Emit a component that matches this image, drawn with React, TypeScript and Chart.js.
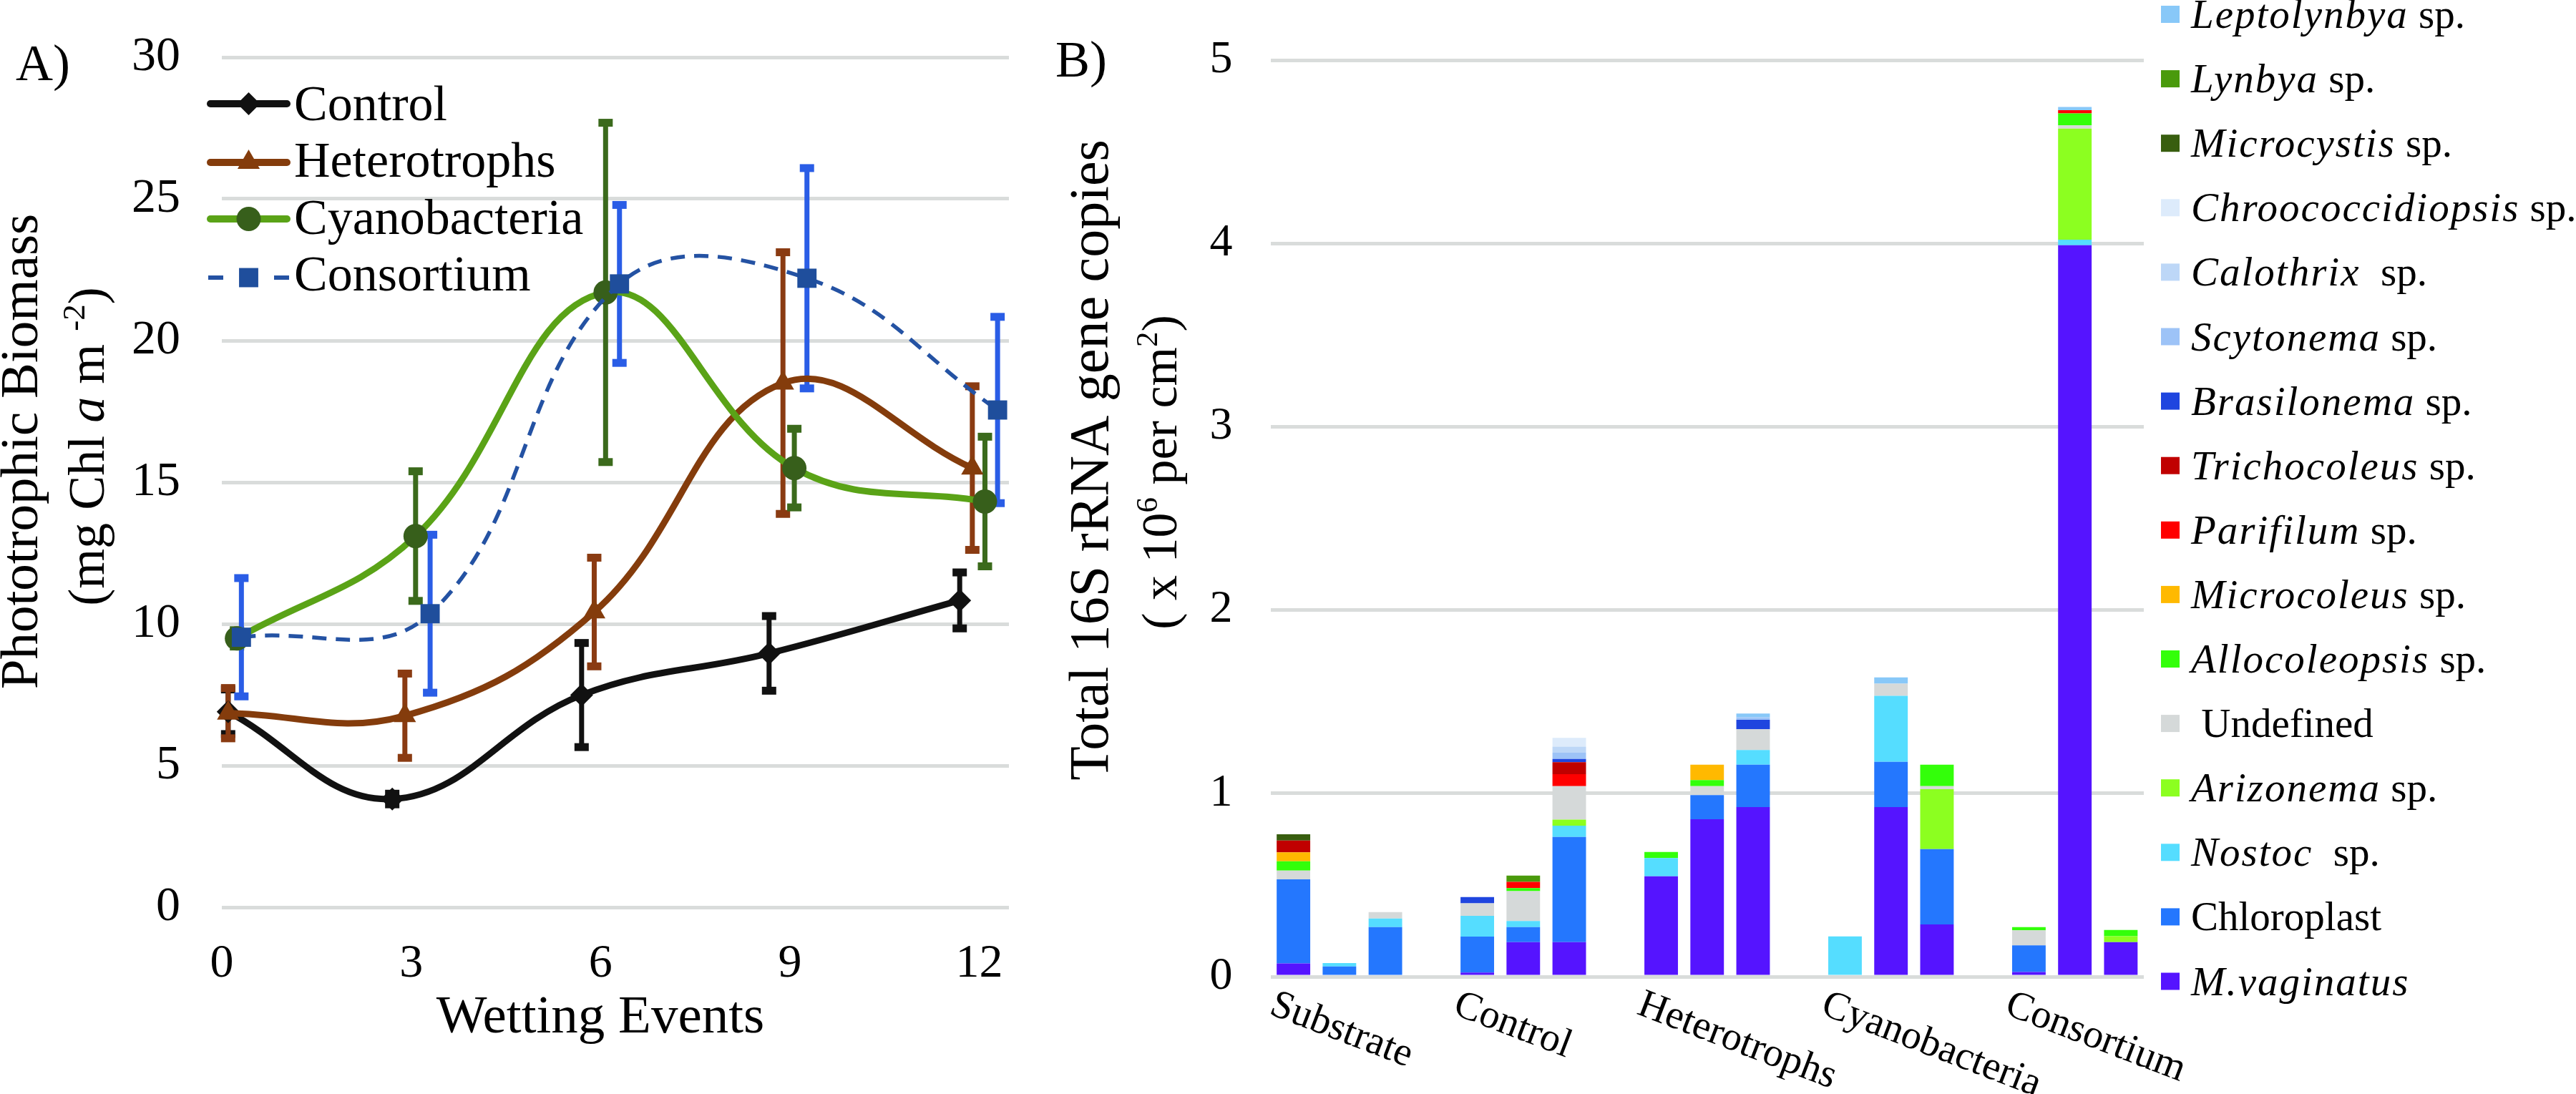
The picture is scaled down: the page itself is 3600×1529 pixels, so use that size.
import React, { useEffect, useRef } from 'react';
import { Chart, registerables } from 'chart.js';

Chart.register(...registerables);

const FONT = "'Liberation Serif', 'Times New Roman', Times, serif";

// ---------------- Panel A data ----------------
const wettingTicks = [0, 3, 6, 9, 12];
const biomassTicks = [0, 5, 10, 15, 20, 25, 30];
const seriesNamesA = ['Control', 'Heterotrophs', 'Cyanobacteria', 'Consortium'];

const wettingControl = [0.1, 2.7, 5.7, 8.67, 11.69];
const biomassControl = [6.9, 3.82, 7.49, 8.96, 10.83];
const errorControl = [0.8, 0.2, 1.85, 1.33, 1.0];

const wettingHetero = [0.1, 2.9, 5.9, 8.89, 11.89];
const biomassHetero = [6.85, 6.76, 10.42, 18.5, 15.5];
const errorHetero = [0.9, 1.5, 1.93, 4.63, 2.9];

const wettingCyano = [0.24, 3.07, 6.08, 9.07, 12.09];
const biomassCyano = [9.49, 13.1, 21.7, 15.5, 14.32];
const errorCyano = [0.3, 2.3, 6.0, 1.4, 2.3];

const wettingConsortium = [0.31, 3.3, 6.3, 9.27, 12.29];
const biomassConsortium = [9.53, 10.36, 22.0, 22.2, 17.55];
const errorConsortium = [2.1, 2.8, 2.8, 3.9, 3.3];

// ---------------- Panel B data ----------------
const groups = ['Substrate', 'Control', 'Heterotrophs', 'Cyanobacteria', 'Consortium'];
const biomassTicksB = [0, 1, 2, 3, 4, 5];
// stacking order: bottom -> top (legend lists top -> bottom)
const speciesNames = [
  'M.vaginatus', 'Chloroplast', 'Nostoc', 'Arizonema', 'Undefined', 'Allocoleopsis',
  'Microcoleus', 'Parifilum', 'Trichocoleus', 'Brasilonema', 'Scytonema', 'Calothrix',
  'Chroococcidiopsis', 'Microcystis', 'Lynbya', 'Leptolynbya',
];
// 15 bars: 3 replicates per group
const mVaginatus = [0.072, 0, 0, 0.022, 0.188, 0.188, 0.547, 0.859, 0.925, 0, 0.925, 0.285, 0.025, 3.99, 0.188];
const chloroplast = [0.459, 0.056, 0.27, 0.197, 0.082, 0.574, 0, 0.131, 0.231, 0, 0.247, 0.411, 0.146, 0, 0];
const nostoc = [0, 0.018, 0.047, 0.113, 0.033, 0.062, 0.1, 0, 0.08, 0.22, 0.36, 0, 0, 0.03, 0];
const arizonema = [0, 0, 0, 0, 0, 0.033, 0, 0, 0, 0, 0, 0.327, 0, 0.606, 0.033];
const undefinedTaxa = [0.048, 0, 0.035, 0.068, 0.163, 0.182, 0, 0.049, 0.114, 0, 0.066, 0.016, 0.082, 0.018, 0];
const allocoleopsis = [0.05, 0, 0, 0, 0.017, 0, 0.033, 0.033, 0, 0, 0, 0.117, 0.017, 0.065, 0.034];
const microcoleus = [0.049, 0, 0, 0, 0, 0, 0, 0.084, 0, 0, 0, 0, 0, 0, 0];
const parifilum = [0, 0, 0, 0, 0.034, 0.066, 0, 0, 0, 0, 0, 0, 0, 0.018, 0];
const trichocoleus = [0.065, 0, 0, 0, 0, 0.065, 0, 0, 0, 0, 0, 0, 0, 0, 0];
const brasilonema = [0, 0, 0, 0.034, 0, 0.018, 0, 0, 0.051, 0, 0, 0, 0, 0, 0];
const scytonema = [0, 0, 0, 0, 0, 0.034, 0, 0, 0.014, 0, 0, 0, 0, 0, 0];
const calothrix = [0, 0, 0, 0, 0, 0.033, 0, 0, 0, 0, 0, 0, 0, 0, 0];
const chroococcidiopsis = [0, 0, 0, 0, 0, 0.048, 0, 0, 0, 0, 0, 0, 0, 0, 0];
const microcystis = [0.034, 0, 0, 0, 0, 0, 0, 0, 0, 0, 0, 0, 0, 0, 0];
const lynbya = [0, 0, 0, 0, 0.034, 0, 0, 0, 0, 0, 0, 0, 0, 0, 0];
const leptolynbya = [0, 0, 0, 0, 0, 0, 0, 0, 0.02, 0, 0.035, 0, 0, 0.017, 0];

const speciesValues = [
  mVaginatus, chloroplast, nostoc, arizonema, undefinedTaxa, allocoleopsis, microcoleus,
  parifilum, trichocoleus, brasilonema, scytonema, calothrix, chroococcidiopsis,
  microcystis, lynbya, leptolynbya,
];

// ---------------- styles ----------------
const styleA = [
  { line: '#111111', marker: '#111111', err: '#111111', point: 'rectRot', radius: 16, width: 9, dash: [] as number[] },
  { line: '#843C0C', marker: '#843C0C', err: '#8A3B12', point: 'triangle', radius: 18, width: 9, dash: [] as number[] },
  { line: '#5AA317', marker: '#375F1B', err: '#3B6A1C', point: 'circle', radius: 17, width: 9, dash: [] as number[] },
  { line: '#2452A3', marker: '#1F4E9C', err: '#2A5DE6', point: 'rect', radius: 19, width: 5.5, dash: [20, 13] },
];
const speciesColors = [
  '#5514FF', '#2477FE', '#55DDFF', '#8CFF20', '#D5D9D9', '#33FF0A', '#FFB900', '#FF0000',
  '#C00000', '#1F45DF', '#9DC3F7', '#BDD7F7', '#DDEBFB', '#385E0F', '#4A9A0C', '#88C8F8',
];
const speciesItalic = [true, false, true, true, false, true, true, true, true, true, true, true, true, true, true, true];
const speciesSuffix = ['', '', '  sp.', ' sp.', '', ' sp.', ' sp.', ' sp.', ' sp.', ' sp.', ' sp.', '  sp.', ' sp.', ' sp.', ' sp.', ' sp.'];

const GRID = '#D9DCDB';

type Seg = { t: string; italic?: boolean; sup?: boolean };

function drawRich(ctx: any, segs: Seg[], size: number, x: number, y: number, rot: number, align: 'center' | 'left') {
  ctx.save();
  ctx.translate(x, y);
  ctx.rotate(rot);
  const fontFor = (s: Seg) => `${s.italic ? 'italic ' : ''}${s.sup ? Math.round(size * 0.62) : size}px ${FONT}`;
  let total = 0;
  const widths = segs.map((s) => {
    ctx.font = fontFor(s);
    const w = ctx.measureText(s.t).width;
    total += w;
    return w;
  });
  let cx = align === 'center' ? -total / 2 : 0;
  ctx.textBaseline = 'alphabetic';
  ctx.textAlign = 'left';
  ctx.fillStyle = '#000';
  segs.forEach((s, i) => {
    ctx.font = fontFor(s);
    ctx.fillText(s.t, cx, s.sup ? -size * 0.38 : 0);
    cx += widths[i];
  });
  ctx.restore();
}

function drawMarker(ctx: any, style: string, x: number, y: number, r: number, color: string) {
  ctx.save();
  ctx.fillStyle = color;
  ctx.beginPath();
  if (style === 'rectRot') {
    ctx.moveTo(x, y - r);
    ctx.lineTo(x + r, y);
    ctx.lineTo(x, y + r);
    ctx.lineTo(x - r, y);
    ctx.closePath();
  } else if (style === 'triangle') {
    for (let k = 0; k < 3; k++) {
      const a = (k * 2 * Math.PI) / 3;
      const px = x + Math.sin(a) * r;
      const py = y - Math.cos(a) * r;
      if (k === 0) ctx.moveTo(px, py);
      else ctx.lineTo(px, py);
    }
    ctx.closePath();
  } else if (style === 'circle') {
    ctx.arc(x, y, r, 0, Math.PI * 2);
  } else {
    const s = r * Math.SQRT1_2;
    ctx.rect(x - s, y - s, 2 * s, 2 * s);
  }
  ctx.fill();
  ctx.restore();
}

const seriesA = [
  { x: wettingControl, y: biomassControl, e: errorControl },
  { x: wettingHetero, y: biomassHetero, e: errorHetero },
  { x: wettingCyano, y: biomassCyano, e: errorCyano },
  { x: wettingConsortium, y: biomassConsortium, e: errorConsortium },
];

const errorBarPlugin = {
  id: 'errorBarsA',
  beforeDatasetsDraw(chart: any) {
    const { ctx } = chart;
    const xs = chart.scales.x;
    const ys = chart.scales.y;
    seriesA.forEach((s, i) => {
      const st = styleA[i];
      ctx.save();
      ctx.strokeStyle = st.err;
      ctx.fillStyle = st.err;
      ctx.lineWidth = 7;
      s.x.forEach((xv, j) => {
        const px = xs.getPixelForValue(xv);
        const top = ys.getPixelForValue(s.y[j] + s.e[j]);
        const bot = ys.getPixelForValue(s.y[j] - s.e[j]);
        ctx.beginPath();
        ctx.moveTo(px, top);
        ctx.lineTo(px, bot);
        ctx.stroke();
        ctx.fillRect(px - 10, top - 5, 20, 11);
        ctx.fillRect(px - 10, bot - 6, 20, 11);
      });
      ctx.restore();
    });
  },
};

const decorA = {
  id: 'decorA',
  afterDraw(chart: any) {
    const { ctx } = chart;
    drawRich(ctx, [{ t: 'A)' }], 72, 22, 112, 0, 'left');
    drawRich(ctx, [{ t: 'Phototrophic Biomass' }], 75, 52, 631, -Math.PI / 2, 'center');
    drawRich(
      ctx,
      [{ t: '(mg Chl ' }, { t: 'a', italic: true }, { t: ' m ' }, { t: '-2', sup: true }, { t: ')' }],
      72, 145, 624, -Math.PI / 2, 'center'
    );
    drawRich(ctx, [{ t: 'Wetting Events' }], 75, 839, 1443, 0, 'center');
    const rowsY = [145, 227, 306, 388];
    const baseY = [168, 247, 327, 406];
    seriesNamesA.forEach((name, i) => {
      const st = styleA[i];
      ctx.save();
      ctx.strokeStyle = st.line;
      ctx.lineWidth = i === 3 ? 6 : 10;
      ctx.lineCap = i === 3 ? 'butt' : 'round';
      ctx.beginPath();
      if (i === 3) {
        ctx.moveTo(291, rowsY[i]);
        ctx.lineTo(312, rowsY[i]);
        ctx.moveTo(383, rowsY[i]);
        ctx.lineTo(404, rowsY[i]);
      } else {
        ctx.moveTo(294, rowsY[i]);
        ctx.lineTo(401, rowsY[i]);
      }
      ctx.stroke();
      ctx.restore();
      drawMarker(ctx, st.point, 347.5, rowsY[i], st.radius, st.marker);
      drawRich(ctx, [{ t: name }], 70, 411, baseY[i], 0, 'left');
    });
  },
};

const slotsPerGroup = 4;
const nSlots = groups.length * slotsPerGroup - 1;
function toSlots(vals: number[]) {
  const out: (number | null)[] = new Array(nSlots).fill(null);
  vals.forEach((v, k) => {
    const g = Math.floor(k / 3);
    const b = k % 3;
    out[g * slotsPerGroup + b] = v;
  });
  return out;
}
const slotLabels = Array.from({ length: nSlots }, (_, i) =>
  i % slotsPerGroup === 0 ? groups[i / slotsPerGroup] : ''
);
const BAR_PCT = 0.73;

const decorB = {
  id: 'decorB',
  afterDraw(chart: any) {
    const { ctx } = chart;
    drawRich(ctx, [{ t: 'B)' }], 72, 25, 107, 0, 'left');
    drawRich(ctx, [{ t: 'Total 16S rRNA gene copies' }], 78, 98, 643, -Math.PI / 2, 'center');
    drawRich(
      ctx,
      [{ t: '( x 10' }, { t: '6', sup: true }, { t: ' per cm' }, { t: '2', sup: true }, { t: ')' }],
      70, 194, 660, -Math.PI / 2, 'center'
    );
    const xs = chart.scales.x;
    const slotW = xs.width / nSlots;
    const barW = slotW * BAR_PCT;
    const ang = (21 * Math.PI) / 180;
    groups.forEach((g, gi) => {
      const left = xs.getPixelForValue(gi * slotsPerGroup) - barW / 2 + 1;
      ctx.save();
      ctx.translate(left, 1382);
      ctx.rotate(ang);
      ctx.font = `56px ${FONT}`;
      ctx.fillStyle = '#000';
      ctx.textBaseline = 'alphabetic';
      ctx.textAlign = 'left';
      ctx.fillText(g, 0, 37);
      ctx.restore();
    });
    const n = speciesNames.length;
    for (let r = 0; r < n; r++) {
      const k = n - 1 - r;
      const cy = 20 + r * 90.1;
      ctx.fillStyle = speciesColors[k];
      ctx.fillRect(1570, cy - 12, 26, 24);
      ctx.save();
      ctx.fillStyle = '#000';
      ctx.textBaseline = 'alphabetic';
      ctx.textAlign = 'left';
      let x = 1612;
      const by = cy + 19;
      if (speciesItalic[k]) {
        ctx.font = `italic 57px ${FONT}`;
        try { ctx.letterSpacing = '2px'; } catch (e) {}
        ctx.fillText(speciesNames[k], x, by);
        x += ctx.measureText(speciesNames[k]).width;
        try { ctx.letterSpacing = '0px'; } catch (e) {}
        if (speciesSuffix[k]) {
          ctx.font = `57px ${FONT}`;
          ctx.fillText(speciesSuffix[k], x, by);
        }
      } else {
        ctx.font = `57px ${FONT}`;
        const label = speciesNames[k] === 'Undefined' ? ' Undefined' : speciesNames[k];
        ctx.fillText(label, x, by);
      }
      ctx.restore();
    }
  },
};

function PanelA() {
  const ref = useRef<HTMLCanvasElement>(null);
  useEffect(() => {
    const chart = new Chart(ref.current as HTMLCanvasElement, {
      type: 'line',
      data: {
        datasets: seriesA.map((s, i) => ({
          label: seriesNamesA[i],
          data: s.x.map((xv, j) => ({ x: xv, y: s.y[j] })),
          borderColor: styleA[i].line,
          backgroundColor: styleA[i].marker,
          pointBackgroundColor: styleA[i].marker,
          pointBorderColor: styleA[i].marker,
          pointBorderWidth: 0,
          pointStyle: styleA[i].point as any,
          pointRadius: styleA[i].radius,
          borderWidth: styleA[i].width,
          borderDash: styleA[i].dash,
          borderCapStyle: i === 3 ? 'butt' : 'round',
          borderJoinStyle: 'round',
          tension: 0.4,
          fill: false,
          clip: false as any,
          order: 4 - i,
        })),
      },
      options: {
        responsive: false,
        animation: false,
        devicePixelRatio: 1,
        layout: { padding: { top: 80, right: 40, left: 0, bottom: 0 } },
        plugins: { legend: { display: false }, tooltip: { enabled: false }, title: { display: false } },
        scales: {
          x: {
            type: 'linear',
            min: 0,
            max: 12.47,
            afterBuildTicks: (axis: any) => { axis.ticks = wettingTicks.map((v) => ({ value: v })); },
            afterFit: (s: any) => { s.height = 261; s.paddingLeft = 0; s.paddingRight = 0; },
            ticks: { font: { family: FONT, size: 66 }, color: '#000', padding: 40, maxRotation: 0, autoSkip: false },
            grid: { display: false, drawTicks: false },
            border: { display: false },
          },
          y: {
            type: 'linear',
            min: 0,
            max: 30,
            afterBuildTicks: (axis: any) => { axis.ticks = biomassTicks.map((v) => ({ value: v })); },
            afterFit: (s: any) => { s.width = 310; s.paddingTop = 0; s.paddingBottom = 0; },
            ticks: { font: { family: FONT, size: 68 }, color: '#000', padding: 58 },
            grid: { color: GRID, lineWidth: 5, drawTicks: false },
            border: { display: false },
          },
        },
      } as any,
      plugins: [errorBarPlugin, decorA],
    });
    return () => chart.destroy();
  }, []);
  return (
    <canvas
      ref={ref}
      width={1450}
      height={1529}
      style={{ position: 'absolute', left: 0, top: 0, width: 1450, height: 1529 }}
    />
  );
}

function PanelB() {
  const ref = useRef<HTMLCanvasElement>(null);
  useEffect(() => {
    const chart = new Chart(ref.current as HTMLCanvasElement, {
      type: 'bar',
      data: {
        labels: slotLabels,
        datasets: speciesNames.map((name, k) => ({
          label: name,
          data: toSlots(speciesValues[k]),
          backgroundColor: speciesColors[k],
          borderWidth: 0,
          barPercentage: BAR_PCT,
          categoryPercentage: 1,
          stack: 'all',
        })),
      },
      options: {
        responsive: false,
        animation: false,
        devicePixelRatio: 1,
        layout: { padding: { top: 84, right: 604, left: 0, bottom: 0 } },
        plugins: { legend: { display: false }, tooltip: { enabled: false }, title: { display: false } },
        scales: {
          x: {
            type: 'category',
            stacked: true,
            offset: true,
            afterFit: (s: any) => { s.height = 164; s.paddingLeft = 0; s.paddingRight = 0; },
            ticks: { display: false },
            grid: { display: false, drawTicks: false },
            border: { display: false },
          },
          y: {
            type: 'linear',
            stacked: true,
            min: 0,
            max: 5,
            afterBuildTicks: (axis: any) => { axis.ticks = biomassTicksB.map((v) => ({ value: v })); },
            afterFit: (s: any) => { s.width = 325.5; s.paddingTop = 0; s.paddingBottom = 0; },
            ticks: { font: { family: FONT, size: 64 }, color: '#000', padding: 53 },
            grid: { color: GRID, lineWidth: 5, drawTicks: false },
            border: { display: false },
          },
        },
      } as any,
      plugins: [decorB],
    });
    return () => chart.destroy();
  }, []);
  return (
    <canvas
      ref={ref}
      width={2150}
      height={1529}
      style={{ position: 'absolute', left: 1450, top: 0, width: 2150, height: 1529 }}
    />
  );
}

export default function App() {
  return (
    <div style={{ position: 'absolute', left: 0, top: 0, width: 3600, height: 1529, background: '#ffffff', overflow: 'hidden' }}>
      <PanelA />
      <PanelB />
    </div>
  );
}
